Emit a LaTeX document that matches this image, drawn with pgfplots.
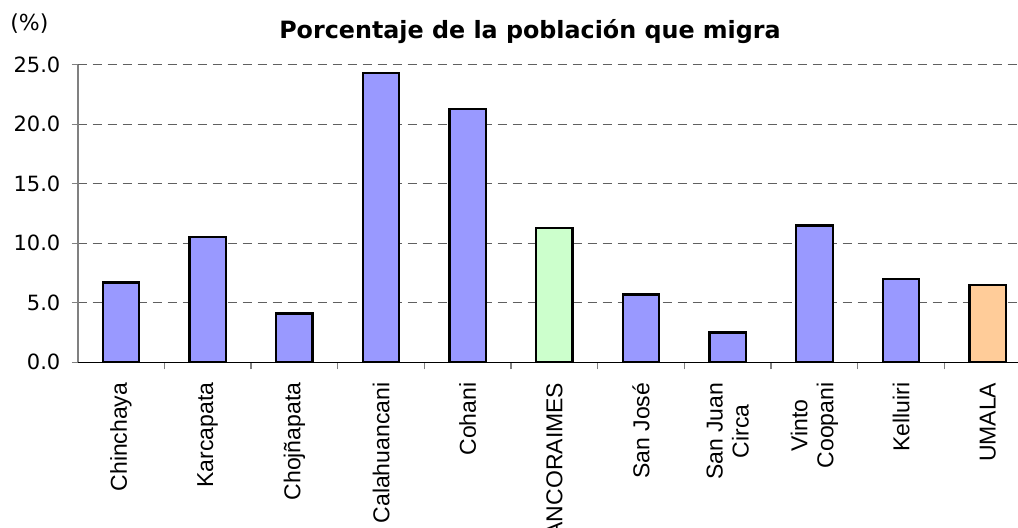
\documentclass[border=0pt]{standalone}
\usepackage{fontspec}
\setmainfont{Liberation Sans}
\newfontfamily\dejavu{DejaVu Sans}
\usepackage{pgfplots}
\pgfplotsset{compat=1.18}
\definecolor{barblue}{HTML}{9999FF}
\definecolor{bargreen}{HTML}{CCFFCC}
\definecolor{barorange}{HTML}{FFCC99}
\definecolor{gridc}{HTML}{606060}
\begin{document}
\begin{tikzpicture}
\begin{axis}[
  at={(0,0)}, anchor=south west,
  scale only axis,
  width=470.15pt, height=148.8pt,
  xmin=-0.5, xmax=10.349,
  ymin=0, ymax=25,
  axis x line*=bottom, axis y line*=left,
  x axis line style={black, line width=0.8pt, -},
  y axis line style={gray, line width=0.8pt, -},
  ytick={0,5,10,15,20,25},
  ymajorgrids,
  major grid style={gridc, line width=0.7pt, dash pattern=on 4.5pt off 3pt},
  tick align=outside,
  major tick length=3pt,
  minor tick length=3.5pt,
  tick style={gray, line width=0.7pt},
  major x tick style={draw=none},
  xtick={0,...,10},
  minor xtick={0.5,1.5,...,9.5},
  xticklabels={Chinchaya,Karcapata,Chojñapata,Calahuancani,Cohani,ANCORAIMES,San José,San Juan\\Circa,Vinto\\Coopani,Kelluiri,UMALA},
  xticklabel style={rotate=90, anchor=east, align=center, inner sep=0pt, font=\fontsize{11.5}{13}\selectfont},
  xticklabel shift=7pt,
  yticklabel style={anchor=east, inner sep=0pt, font=\dejavu\fontsize{10.5}{12}\selectfont},
  yticklabel shift=5.5pt,
  /pgf/number format/assume math mode=true,
  yticklabel={\pgfmathprintnumber[fixed,fixed zerofill,precision=1]{\tick}},
  ybar, bar width=0.42,
  every axis plot/.append style={draw=black, line width=1.1pt, bar shift=0pt},
]
\addplot[fill=barblue, draw=black] coordinates {(0,6.7) (1,10.5) (2,4.1) (3,24.3) (4,21.3) (6,5.7) (7,2.5) (8,11.5) (9,7.0)};
\addplot[fill=bargreen, draw=black] coordinates {(5,11.3)};
\addplot[fill=barorange, draw=black] coordinates {(10,6.5)};
\end{axis}
\node[anchor=base, font=\dejavu\bfseries\fontsize{11.9}{14}\selectfont] at (226.15pt,162.15pt) {Porcentaje de la población que migra};
\node[anchor=base west, inner sep=0pt, font=\dejavu\fontsize{11}{13}\selectfont] at (-33.85pt,166.15pt) {(\%)};
\pgfresetboundingbox
\path (-38.85pt,-82.35pt) rectangle (470.15pt,181.15pt);
\end{tikzpicture}
\end{document}
